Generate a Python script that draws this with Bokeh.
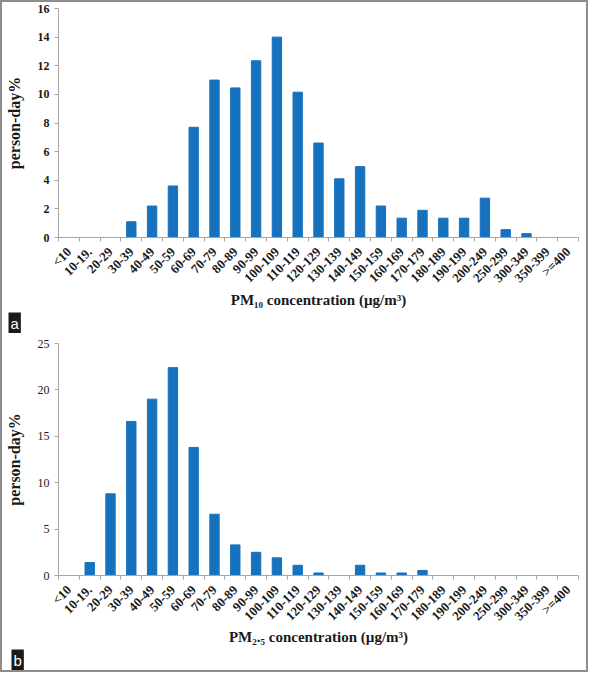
import math
from bokeh.plotting import figure
from bokeh.models import ColumnDataSource, FixedTicker, Range1d, Title
from bokeh.layouts import column
from bokeh.embed import file_html
from bokeh.resources import INLINE

categories = ["<10", "10-19.", "20-29", "30-39", "40-49", "50-59", "60-69", "70-79",
              "80-89", "90-99", "100-109", "110-119", "120-129", "130-139", "140-149",
              "150-159", "160-169", "170-179", "180-189", "190-199", "200-249",
              "250-299", "300-349", "350-399", ">=400"]

pm10_values = [0, 0, 0, 1.1, 2.2, 3.6, 7.7, 11.0, 10.45, 12.35, 14.0, 10.15, 6.6,
               4.1, 4.95, 2.2, 1.35, 1.9, 1.35, 1.35, 2.75, 0.55, 0.27, 0, 0]

pm25_values = [0, 1.4, 8.8, 16.6, 19.0, 22.4, 13.8, 6.6, 3.3, 2.5, 1.9, 1.1, 0.27,
               0, 1.1, 0.27, 0.27, 0.55, 0, 0, 0, 0, 0, 0, 0]

pm10_yticks = [0, 2, 4, 6, 8, 10, 12, 14, 16]
pm25_yticks = [0, 5, 10, 15, 20, 25]

BAR = "#1672BE"
AXIS = "#a6a6a6"
SERIF = "Liberation Serif"


def make_panel(vals, yticks, xlabel, tag, w, h, bl, br, bt, ybold, xl_standoff):
    xs = list(range(len(categories)))
    src = ColumnDataSource(dict(x=xs, top=vals, cat=categories))
    p = figure(width=w, height=h, output_backend="svg", toolbar_location=None,
               x_range=Range1d(-0.5, len(categories) - 0.5),
               y_range=Range1d(0, yticks[-1]),
               min_border_left=bl, min_border_right=br,
               min_border_top=bt, min_border_bottom=0)
    p.vbar(x="x", top="top", width=0.45, source=src, fill_color=BAR, line_color=BAR)
    p.outline_line_color = None
    p.xgrid.visible = False
    p.ygrid.visible = False

    xa = p.xaxis[0]
    xa.ticker = FixedTicker(ticks=xs, minor_ticks=[i - 0.5 for i in range(len(categories) + 1)])
    xa.major_label_overrides = {i: c for i, c in enumerate(categories)}
    xa.major_tick_in = 0
    xa.major_tick_out = 0
    xa.minor_tick_in = 0
    xa.minor_tick_out = 4
    xa.minor_tick_line_color = AXIS
    xa.axis_line_color = AXIS
    xa.major_label_orientation = math.pi / 4
    xa.major_label_text_font = SERIF
    xa.major_label_text_font_style = "bold"
    xa.major_label_text_font_size = "13px"
    xa.major_label_text_color = "#1a1a1a"
    xa.major_label_standoff = 8
    xa.axis_label = xlabel
    xa.axis_label_text_font = SERIF
    xa.axis_label_text_font_style = "bold"
    xa.axis_label_text_font_size = "15px"
    xa.axis_label_text_color = "#1a1a1a"
    xa.axis_label_standoff = xl_standoff

    ya = p.yaxis[0]
    ya.ticker = FixedTicker(ticks=yticks)
    ya.major_tick_in = 0
    ya.major_tick_out = 4
    ya.minor_tick_out = 0
    ya.minor_tick_in = 0
    ya.major_tick_line_color = AXIS
    ya.axis_line_color = AXIS
    ya.major_label_text_font = SERIF
    ya.major_label_text_font_style = "bold" if ybold else "normal"
    ya.major_label_text_font_size = "12px"
    ya.major_label_text_color = "#1a1a1a"
    ya.major_label_standoff = 5
    ya.axis_label = "person-day%"
    ya.axis_label_text_font = SERIF
    ya.axis_label_text_font_style = "bold"
    ya.axis_label_text_font_size = "16px"
    ya.axis_label_text_color = "#1a1a1a"
    ya.axis_label_standoff = 12

    t = Title(text=tag, align="left", offset=-bl, standoff=0,
              text_color="white", text_font="Liberation Sans", text_font_size="15px",
              text_font_style="normal", background_fill_color="#1a1a1a", padding=2)
    p.add_layout(t, "below")
    return p


pa = make_panel(pm10_values, pm10_yticks, "PM₁₀ concentration (µg/m³)", "a",
                584, 331, 50, 6, 6, True, -2)
pb = make_panel(pm25_values, pm25_yticks, "PM₂.₅ concentration (µg/m³)", "b",
                584, 337, 47, 8, 10, False, -3)

layout = column(pa, pb, spacing=0, styles={"border": "2px solid #8c8c8c"})

open("out.html", "w").write(file_html(layout, INLINE))
